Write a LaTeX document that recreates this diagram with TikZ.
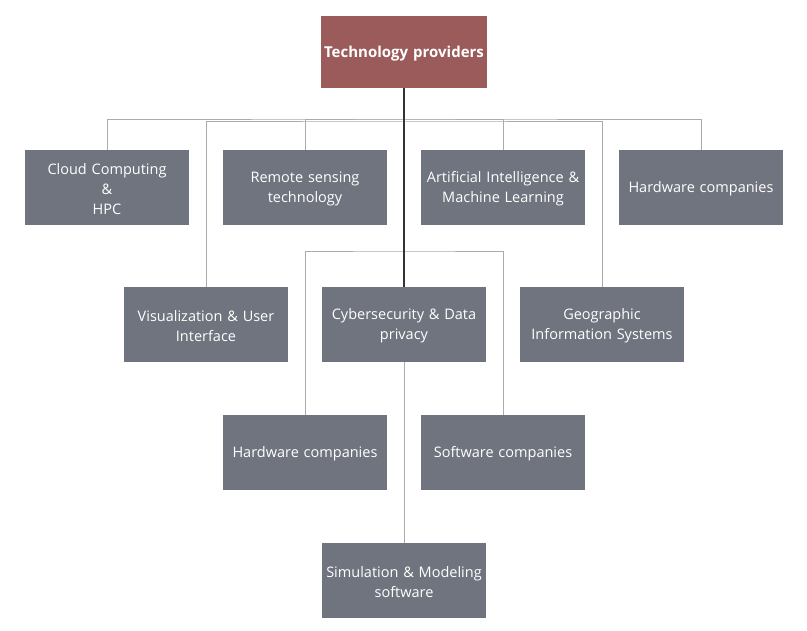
\documentclass[tikz,border=0pt]{standalone}
\usepackage{fontspec}
\setmainfont{Open Sans}
\definecolor{boxgray}{HTML}{6F747E}
\definecolor{rootred}{HTML}{9B5B5B}
\definecolor{linegray}{HTML}{ABABAB}
\definecolor{darkline}{HTML}{333333}
\begin{document}
\begin{tikzpicture}[x=1pt,y=-1pt,
  box/.style={fill=boxgray,draw=none,minimum width=164pt,minimum height=75pt,
    text=white,align=center,font=\fontsize{14.5}{20}\selectfont,inner sep=2pt,text width=160pt,
    execute at begin node={\rule{0pt}{14pt}}},
  rootbox/.style={fill=rootred,draw=none,minimum width=164pt,minimum height=72pt,
    text=white,align=center,font=\fontsize{15}{20}\selectfont\bfseries,
    text width=160pt,execute at begin node={\rule{0pt}{14pt}}},
  conn/.style={draw=linegray,line width=1pt},
  rootline/.style={draw=darkline,line width=1.4pt}]
\useasboundingbox (0,0) rectangle (807,631);
\node[rootbox] (root) at (404,52) {Technology providers};
\node[box] (cc) at (107,187.5) {Cloud Computing\\\&\\HPC};
\node[box] (rs) at (305,187.5) {Remote sensing\\technology};
\node[box] (ai) at (503,187.5) {Artificial Intelligence \&\\Machine Learning};
\node[box] (hw1) at (701,187.5) {Hardware companies};
\node[box] (vis) at (206,324.5) {Visualization \& User\\Interface};
\node[box] (cyb) at (404,324.5) {Cybersecurity \& Data\\privacy};
\node[box] (gis) at (602,324.5) {Geographic\\Information Systems};
\node[box] (hw2) at (305,452.5) {Hardware companies};
\node[box] (sw) at (503,452.5) {Software companies};
\node[box] (sim) at (404,580.5) {Simulation \& Modeling\\software};
\coordinate (bus) at (404,120);
\coordinate (bus2) at (404,122);
\coordinate (bus3) at (404,252);
\draw[conn] (cc.north) |- (bus) -| (hw1.north);
\draw[conn] (rs.north) |- (bus) -| (ai.north);
\draw[conn] (vis.north) |- (bus2) -| (gis.north);
\draw[conn] (hw2.north) |- (bus3) -| (sw.north);
\draw[conn] (cyb.south) -- (sim.north);
\draw[rootline] (root.south) -- (cyb.north);
\end{tikzpicture}
\end{document}
